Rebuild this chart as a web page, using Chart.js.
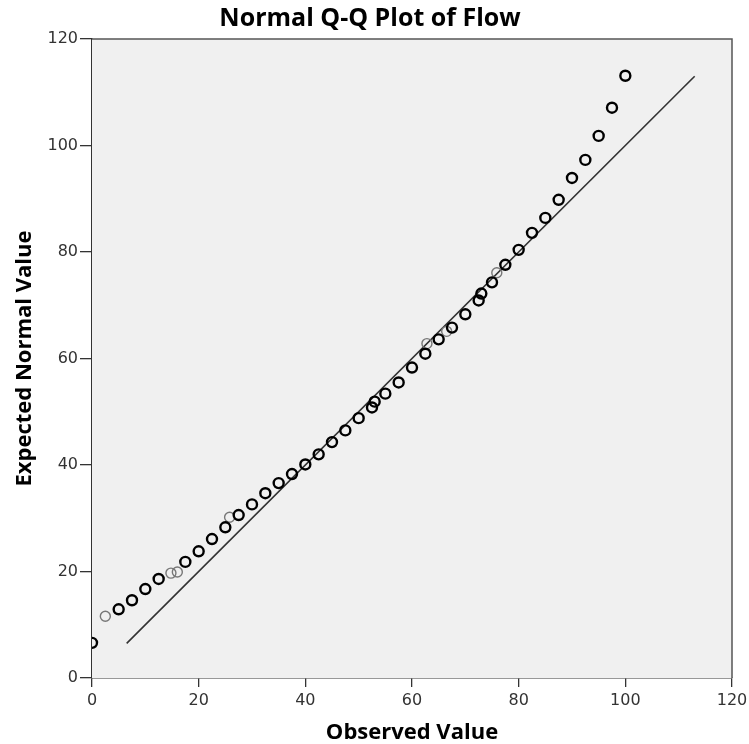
<!DOCTYPE html>
<html>
<head>
<meta charset="utf-8">
<script src="https://cdn.jsdelivr.net/npm/chart.js@4"></script>
<style>
  html, body { margin: 0; padding: 0; background: #ffffff; }
  #wrap { width: 749px; height: 744px; }
</style>
</head>
<body>
<div id="wrap"><canvas id="c" width="749" height="744"></canvas></div>
<script>
// ---- data ----
const titleText = "Normal Q-Q Plot of Flow";
const xTitle = "Observed Value";
const yTitle = "Expected Normal Value";
const xTicks = [0, 20, 40, 60, 80, 100, 120];
const yTicks = [0, 20, 40, 60, 80, 100, 120];

// dark (overlapping) observations
const observed = [0, 5, 7.5, 10, 12.5, 17.5, 20, 22.5, 25, 27.5, 30, 32.5, 35, 37.5, 40, 42.5, 45, 47.5, 50, 52.5, 53, 55, 57.5, 60, 62.5, 65, 67.5, 70, 72.5, 73, 75, 77.5, 80, 82.5, 85, 87.5, 90, 92.5, 95, 97.5, 100];
const expected = [6.6, 12.9, 14.6, 16.7, 18.6, 21.8, 23.8, 26.1, 28.3, 30.6, 32.6, 34.7, 36.6, 38.3, 40.1, 42.0, 44.3, 46.5, 48.8, 50.8, 51.9, 53.4, 55.5, 58.3, 60.9, 63.6, 65.8, 68.3, 70.9, 72.2, 74.3, 77.6, 80.4, 83.6, 86.4, 89.8, 93.9, 97.3, 101.8, 107.1, 113.1];

// lighter (single) observations
const observedLight = [2.5, 14.8, 16.0, 25.8, 62.8, 66.5, 75.9];
const expectedLight = [11.6, 19.7, 19.9, 30.2, 62.8, 65.1, 76.1];

// reference line
const lineX = [6.5, 113];
const lineY = [6.5, 113];

const toPts = (xs, ys) => xs.map((x, i) => ({ x: x, y: ys[i] }));

const plotBg = {
  id: 'plotBg',
  beforeDatasetsDraw(chart) {
    const a = chart.chartArea, ctx = chart.ctx;
    ctx.save();
    ctx.fillStyle = '#f0f0f0';
    ctx.fillRect(a.left, a.top, a.right - a.left, a.bottom - a.top);
    ctx.restore();
  },
  afterDraw(chart) {
    const a = chart.chartArea, ctx = chart.ctx;
    ctx.save();
    ctx.strokeStyle = '#555';
    ctx.lineWidth = 1.5;
    ctx.beginPath();
    ctx.moveTo(a.left, a.top);
    ctx.lineTo(a.right, a.top);
    ctx.lineTo(a.right, a.bottom);
    ctx.stroke();
    ctx.restore();
  }
};

const tickFont = { family: "'DejaVu Sans', sans-serif", size: 16 };
const titleFont = { family: "'Open Sans', 'DejaVu Sans', sans-serif", size: 22, weight: 'bold', lineHeight: 1.0 };

new Chart(document.getElementById('c'), {
  type: 'scatter',
  data: {
    datasets: [
      {
        type: 'line',
        label: 'line',
        data: toPts(lineX, lineY),
        borderColor: '#333',
        borderWidth: 1.6,
        pointRadius: 0,
        fill: false,
        order: 3
      },
      {
        label: 'light',
        data: toPts(observedLight, expectedLight),
        pointStyle: 'circle',
        pointRadius: 5,
        pointBorderWidth: 1.4,
        pointBorderColor: '#777',
        pointBackgroundColor: 'rgba(0,0,0,0)',
        clip: 0,
        order: 2
      },
      {
        label: 'dark',
        data: toPts(observed, expected),
        pointStyle: 'circle',
        pointRadius: 5,
        pointBorderWidth: 2.4,
        pointBorderColor: '#000',
        pointBackgroundColor: 'rgba(0,0,0,0)',
        clip: 0,
        order: 1
      }
    ]
  },
  options: {
    responsive: false,
    animation: false,
    events: [],
    layout: { padding: { left: 8, right: 17, top: 0, bottom: 0 } },
    plugins: {
      legend: { display: false },
      tooltip: { enabled: false },
      title: {
        display: true,
        text: titleText,
        color: '#000',
        font: { family: "'Open Sans', 'DejaVu Sans', sans-serif", size: 25, weight: 'bold', lineHeight: 1.2 },
        padding: { top: 4, bottom: 5 }
      }
    },
    scales: {
      x: {
        type: 'linear',
        min: 0, max: 120,
        afterBuildTicks(scale) { scale.ticks = xTicks.map(v => ({ value: v })); },
        afterFit(scale) { scale.height = 66; scale.paddingRight = 0; scale.paddingLeft = 0; },
        ticks: { color: '#333', font: tickFont, padding: 4, maxRotation: 0 },
        grid: { drawOnChartArea: false, drawTicks: true, tickLength: 9, color: '#333', lineWidth: 1.3 },
        border: { display: true, color: '#333', width: 1.5 },
        title: { display: true, text: xTitle, color: '#000', font: titleFont, padding: { top: 0, bottom: 0 } }
      },
      y: {
        type: 'linear',
        min: 0, max: 120,
        afterBuildTicks(scale) { scale.ticks = yTicks.map(v => ({ value: v })); },
        afterFit(scale) { scale.width = 84; },
        ticks: { color: '#333', font: tickFont, padding: 2 },
        grid: { drawOnChartArea: false, drawTicks: true, tickLength: 12, color: '#333', lineWidth: 1.3 },
        border: { display: true, color: '#333', width: 1.5 },
        title: { display: true, text: yTitle, color: '#000', font: titleFont, padding: { top: 6, bottom: 0 } }
      }
    }
  },
  plugins: [plotBg]
});
</script>
</body>
</html>
